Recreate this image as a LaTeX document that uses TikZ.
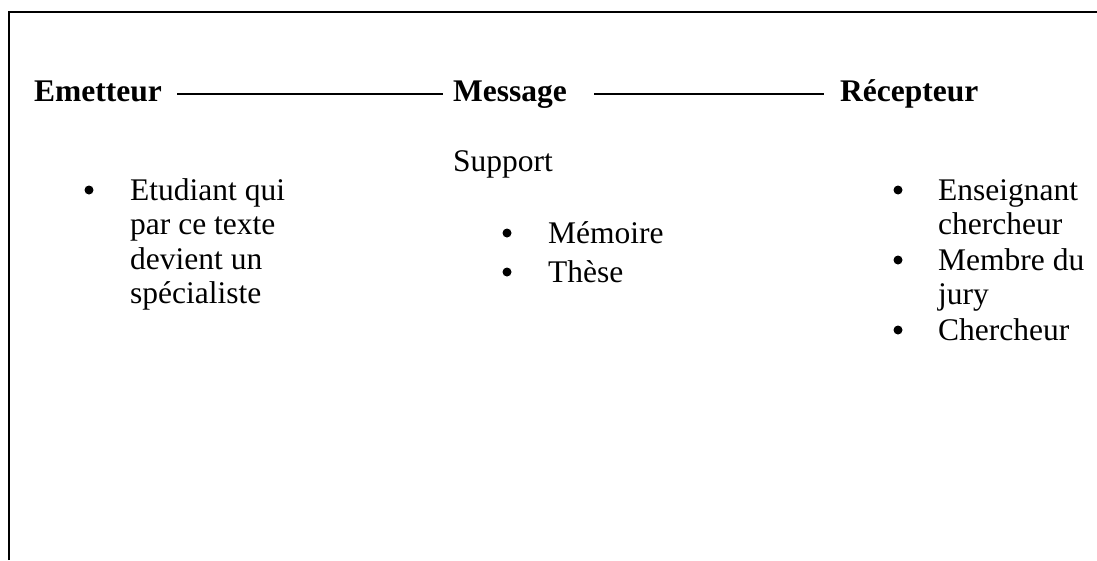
\documentclass[tikz,border=0pt]{standalone}
\usepackage{fontspec}
\setmainfont{Liberation Serif}
\usetikzlibrary{positioning}

\begin{document}
\begin{tikzpicture}[x=1pt,y=-1pt,
        head/.style={
        font=\fontsize{31.5}{35}\selectfont\bfseries,
        inner sep=0pt,
        anchor=base west},
        itemtext/.style={
        font=\fontsize{31.5}{34.5}\selectfont,
        inner sep=0pt,
        anchor=base west},
        dot/.style={circle, fill=black, inner sep=0pt, minimum size=9pt},
        link/.style={line width=1.6pt}
        ]
        \useasboundingbox (0,0) rectangle (1097,560);
        \draw[line width=2pt] (9,560) -- (9,12) -- (1097,12);

        \node[head] (em) at (34,101) {Emetteur};
        \node[head] (msg) at (453,101) {Message};
        \node[head] (rec) at (840,101) {Récepteur};
        \node[itemtext] (sup) at (453,171) {Support};

        \node[itemtext] (etu) at (130,200) {\begin{tabular}[t]{@{}l@{}}Etudiant qui\\par ce texte\\devient un\\spécialiste\end{tabular}};
        \node[itemtext] (mem) at (548,243) {Mémoire};
        \node[itemtext] (the) at (548,282) {Thèse};
        \node[itemtext] (ens) at (938,200) {\begin{tabular}[t]{@{}l@{}}Enseignant\\chercheur\end{tabular}};
        \node[itemtext] (mbr) at (938,270) {\begin{tabular}[t]{@{}l@{}}Membre du\\jury\end{tabular}};
        \node[itemtext] (chr) at (938,340) {Chercheur};

        \foreach \n/\x in {etu/89, mem/507, the/507, ens/898, mbr/898, chr/898}
            \node[dot] (b\n) at ([yshift=10pt]\n.base west -| \x,0) {};

        \draw[link, shorten <=15pt, shorten >=10pt] ([yshift=7pt]em.base east) -- ([yshift=7pt]msg.base west);
        \draw[link, shorten <=27pt, shorten >=16pt] ([yshift=7pt]msg.base east) -- ([yshift=7pt]rec.base west);
\end{tikzpicture}
\end{document}
